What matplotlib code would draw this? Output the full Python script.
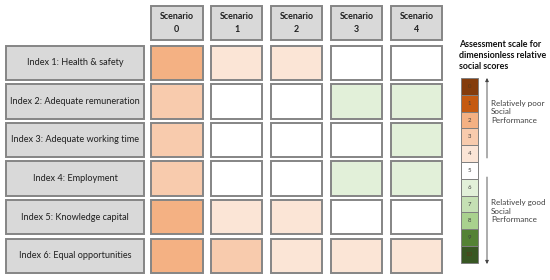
import numpy as np
import matplotlib
matplotlib.use("Agg")
import matplotlib.pyplot as plt
from matplotlib.patches import Rectangle

plt.rcParams['font.family'] = ['Lato', 'DejaVu Sans']

# data
indices = ["Index 1: Health & safety", "Index 2: Adequate remuneration",
           "Index 3: Adequate working time", "Index 4: Employment",
           "Index 5: Knowledge capital", "Index 6: Equal opportunities"]
scenarios = ["Scenario\n0", "Scenario\n1", "Scenario\n2", "Scenario\n3", "Scenario\n4"]
scores = np.array([
    [2, 4, 4, 5, 5],
    [3, 5, 5, 6, 6],
    [3, 5, 5, 5, 6],
    [3, 5, 5, 6, 6],
    [2, 4, 4, 5, 5],
    [2, 3, 4, 4, 4],
])
scale_levels = list(range(11))
scale_colors = ["#843C0C", "#C55A11", "#F4B183", "#F8CBAD", "#FBE5D6", "#FFFFFF",
                "#E2F0D9", "#C5E0B4", "#A9D18E", "#548235", "#385723"]
poor_text = "Relatively poor\nSocial\nPerformance"
good_text = "Relatively good\nSocial\nPerformance"
legend_title = "Assessment scale for\ndimensionless relative\nsocial scores"

# layout (pixels)
col_x0, col_dx, cell_w = 151, 59.9, 51.5
row_y0, row_dy, cell_h = 45.5, 38.6, 34.5
hdr_y, hdr_h = 6, 34
idx_x, idx_w = 6, 138
edge = "#858585"
grey = "#D9D9D9"

fig = plt.figure(figsize=(5.5, 2.8), dpi=100)
ax = fig.add_axes([0, 0, 1, 1])
ax.set_xlim(0, 550)
ax.set_ylim(280, 0)
ax.axis('off')

# scenario headers
for j, s in enumerate(scenarios):
    x = col_x0 + j * col_dx
    ax.add_patch(Rectangle((x, hdr_y), cell_w, hdr_h, facecolor=grey, edgecolor=edge, lw=1.4))
    ax.text(x + cell_w / 2, hdr_y + hdr_h / 2, s, ha='center', va='center',
            fontsize=6.4, fontweight='bold', color='#1f1f1f', linespacing=1.5)

# index labels and score cells
for i, name in enumerate(indices):
    y = row_y0 + i * row_dy
    ax.add_patch(Rectangle((idx_x, y), idx_w, cell_h, facecolor=grey, edgecolor=edge, lw=1.4))
    ax.text(idx_x + idx_w / 2, y + cell_h / 2, name, ha='center', va='center',
            fontsize=6.6, color='#1f1f1f')
    for j in range(len(scenarios)):
        x = col_x0 + j * col_dx
        ax.add_patch(Rectangle((x, y), cell_w, cell_h, facecolor=scale_colors[scores[i, j]],
                               edgecolor=edge, lw=1.4))

# legend scale
sx, sw, sy0, sh = 461, 17, 78, 16.8
ax.text(459, 40, legend_title, ha='left', va='top', fontsize=6.4,
        fontweight='bold', color='#111111', linespacing=1.3)
for k, lev in enumerate(scale_levels):
    y = sy0 + k * sh
    ax.add_patch(Rectangle((sx, y), sw, sh, facecolor=scale_colors[lev],
                           edgecolor='#7F7F7F', lw=0.7))
    ax.text(sx + sw / 2, y + sh / 2, str(lev), ha='center', va='center',
            fontsize=4.3, color='#5a3a1a' if lev in (0, 10) else '#404040')

ax.annotate("", xy=(487, 78), xytext=(487, 158),
            arrowprops=dict(arrowstyle='-|>', color='#404040', lw=0.6,
                            mutation_scale=5, shrinkA=0, shrinkB=0))
ax.annotate("", xy=(487, 264), xytext=(487, 177),
            arrowprops=dict(arrowstyle='-|>', color='#404040', lw=0.6,
                            mutation_scale=5, shrinkA=0, shrinkB=0))
ax.text(491, 112, poor_text, ha='left', va='center', fontsize=5.8,
        color='#404040', linespacing=1.3)
ax.text(491, 211, good_text, ha='left', va='center', fontsize=5.8,
        color='#404040', linespacing=1.3)

fig.savefig("out.png", dpi=100)
